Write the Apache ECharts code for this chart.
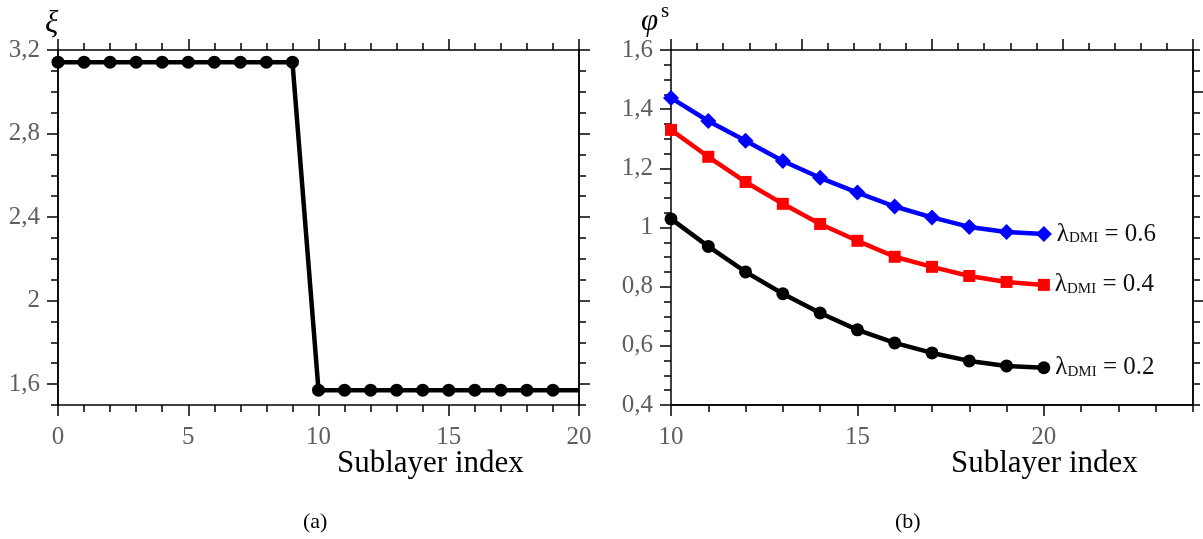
<!DOCTYPE html>
<html>
<head>
<meta charset="utf-8">
<title>Sublayer profiles</title>
<script src="https://cdn.jsdelivr.net/npm/echarts@6/dist/echarts.min.js"></script>
<style>
  html, body { margin: 0; padding: 0; background: #fff; }
  #chart { width: 1203px; height: 539px; }
</style>
</head>
<body>
<div id="chart"></div>
<script>
// (a) angle xi per sublayer
const xiIndex = [0, 1, 2, 3, 4, 5, 6, 7, 8, 9, 10, 11, 12, 13, 14, 15, 16, 17, 18, 19, 20];
const xiValues = [3.1416, 3.1416, 3.1416, 3.1416, 3.1416, 3.1416, 3.1416, 3.1416, 3.1416, 3.1416,
                  1.5708, 1.5708, 1.5708, 1.5708, 1.5708, 1.5708, 1.5708, 1.5708, 1.5708, 1.5708, 1.5708];
const xiTicks = [1.6, 2.0, 2.4, 2.8, 3.2];

// (b) phi^s per sublayer for three DMI strengths
const sublayers = [10, 11, 12, 13, 14, 15, 16, 17, 18, 19, 20];
const phiDmi02 = [1.029, 0.936, 0.850, 0.776, 0.711, 0.654, 0.610, 0.576, 0.549, 0.532, 0.526];
const phiDmi04 = [1.330, 1.239, 1.154, 1.080, 1.012, 0.955, 0.901, 0.867, 0.836, 0.816, 0.806];
const phiDmi06 = [1.438, 1.360, 1.293, 1.225, 1.168, 1.118, 1.071, 1.034, 1.002, 0.985, 0.978];
const dmiLabels = ['0.2', '0.4', '0.6'];
const phiXTicks = [10, 15, 20];
const twinYTicks = [2, 3];

const SERIF = 'Liberation Serif';
const AXIS_W = 1.5;
const MAJOR = 11, MINOR = 7;
const commaNum = v => String(+(+v).toFixed(2)).replace('.', ',');

function baseAxis(extra) {
  return Object.assign({
    type: 'value',
    splitLine: { show: false },
    axisLine: { show: true, onZero: false, lineStyle: { color: '#000', width: AXIS_W } },
    axisTick: { show: true, inside: false, length: MAJOR, lineStyle: { color: '#000', width: AXIS_W } },
    axisLabel: { show: false },
    minorTick: { show: false }
  }, extra);
}
function labelStyle(extra) {
  return Object.assign({
    show: true, color: '#5f5f5f', fontFamily: SERIF, fontSize: 25, formatter: commaNum
  }, extra);
}
function minorOnly(extra) {
  const a = baseAxis(extra);
  a.axisTick = { show: true, inside: false, length: MINOR, lineStyle: { color: '#000', width: AXIS_W } };
  return a;
}
function withMinor(axis, split) {
  axis.minorTick = { show: true, splitNumber: split, length: MINOR, lineStyle: { color: '#000', width: AXIS_W } };
  return axis;
}

const xAxes = [
  // panel (a)
  withMinor(baseAxis({ gridIndex: 0, position: 'bottom', min: 0, max: 20, interval: 5,
    axisLabel: labelStyle({ margin: 20 }) }), 5),
  withMinor(baseAxis({ gridIndex: 0, position: 'top', min: 0, max: 20, interval: 5 }), 5),
  // panel (b)
  minorOnly({ gridIndex: 1, position: 'bottom', min: 10, max: 24, interval: 1 }),
  baseAxis({ gridIndex: 1, position: 'bottom', min: 10, max: 24,
    axisTick: { show: true, inside: false, length: MAJOR, customValues: phiXTicks, lineStyle: { color: '#000', width: AXIS_W } },
    axisLabel: labelStyle({ margin: 20, customValues: phiXTicks }) }),
  withMinor(baseAxis({ gridIndex: 1, position: 'top', min: 0, max: 20, interval: 5 }), 5)
];

const yAxes = [
  // panel (a) left
  minorOnly({ gridIndex: 0, position: 'left', min: 1.5, max: 3.2, interval: 0.1 }),
  baseAxis({ gridIndex: 0, position: 'left', min: 1.5, max: 3.2,
    axisTick: { show: true, inside: false, length: MAJOR, customValues: xiTicks, lineStyle: { color: '#000', width: AXIS_W } },
    axisLabel: labelStyle({ margin: 18, customValues: xiTicks }) }),
  // panel (a) right
  minorOnly({ gridIndex: 0, position: 'right', min: 1.5, max: 3.2, interval: 0.1 }),
  baseAxis({ gridIndex: 0, position: 'right', min: 1.5, max: 3.2,
    axisTick: { show: true, inside: false, length: MAJOR, customValues: xiTicks, lineStyle: { color: '#000', width: AXIS_W } } }),
  // panel (b) left
  withMinor(baseAxis({ gridIndex: 1, position: 'left', min: 0.4, max: 1.6, interval: 0.2,
    axisLabel: labelStyle({ margin: 18 }) }), 4),
  // panel (b) right
  minorOnly({ gridIndex: 1, position: 'right', min: 1.5, max: 3.2, interval: 0.1 }),
  baseAxis({ gridIndex: 1, position: 'right', min: 1.5, max: 3.2,
    axisTick: { show: true, inside: false, length: MAJOR, customValues: twinYTicks, lineStyle: { color: '#000', width: AXIS_W } } })
];

const dmiRich = {
  l: { fontFamily: SERIF, fontSize: 25, color: '#111' },
  li: { fontFamily: SERIF, fontSize: 25, color: '#111' },
  s: { fontFamily: SERIF, fontSize: 15, color: '#111', padding: [9, 0, 0, 0] }
};
function phiSeries(values, color, symbol, size, label) {
  const last = values.length - 1;
  return {
    type: 'line', xAxisIndex: 3, yAxisIndex: 4,
    data: sublayers.map((x, i) => [x, values[i]]),
    symbol: symbol, symbolSize: size,
    lineStyle: { color: color, width: 4.5 },
    itemStyle: { color: color },
    clip: false,
    z: 3,
    label: {
      show: true, position: 'right', distance: 5,
      formatter: p => p.dataIndex === last ? '{li|λ}{s|DMI}{l| = ' + label + '}' : '',
      rich: dmiRich
    }
  };
}

const option = {
  backgroundColor: '#fff',
  animation: false,
  grid: [
    { left: 58, top: 50, width: 521, height: 355 },
    { left: 671, top: 50, width: 522, height: 355 }
  ],
  xAxis: xAxes,
  yAxis: yAxes,
  series: [
    {
      type: 'line', xAxisIndex: 0, yAxisIndex: 1,
      data: xiIndex.map((x, i) => [x, xiValues[i]]),
      symbol: (v, p) => (p.dataIndex === xiIndex.length - 1 ? 'none' : 'circle'),
      symbolSize: 13,
      lineStyle: { color: '#000', width: 4.5 },
      itemStyle: { color: '#000' },
      z: 3
    },
    phiSeries(phiDmi02, '#000000', 'circle', 13, dmiLabels[0]),
    phiSeries(phiDmi04, '#ff0000', 'rect', 12, dmiLabels[1]),
    phiSeries(phiDmi06, '#0000ff', 'diamond', 16, dmiLabels[2])
  ],
  graphic: [
    { type: 'text', left: 45, top: 8, style: { text: 'ξ', font: 'italic 31px "' + SERIF + '"', fill: '#000' } },
    { type: 'text', left: 641, top: 6, style: { text: 'φ', font: 'italic 31px "' + SERIF + '"', fill: '#000' } },
    { type: 'text', left: 661, top: 1, style: { text: 's', font: '21px "' + SERIF + '"', fill: '#000' } },
    { type: 'text', left: 337, top: 448, style: { text: 'Sublayer index', font: '31px "' + SERIF + '"', fill: '#000' } },
    { type: 'text', left: 951, top: 448, style: { text: 'Sublayer index', font: '31px "' + SERIF + '"', fill: '#000' } },
    { type: 'text', left: 303, top: 511, style: { text: '(a)', font: '22px "' + SERIF + '"', fill: '#000' } },
    { type: 'text', left: 895, top: 511, style: { text: '(b)', font: '22px "' + SERIF + '"', fill: '#000' } }
  ]
};

const chart = echarts.init(document.getElementById('chart'), null, { renderer: 'canvas' });
chart.setOption(option);
</script>
</body>
</html>
